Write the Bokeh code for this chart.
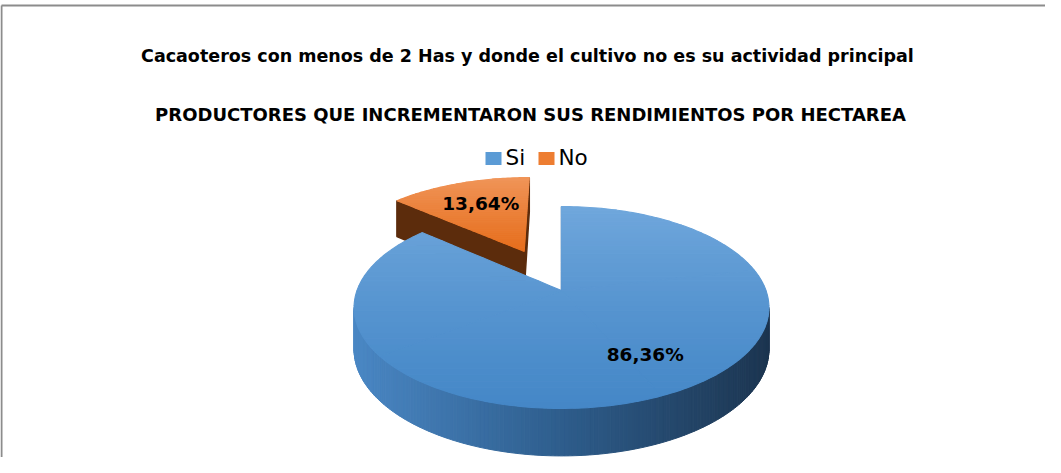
import numpy as np
from bokeh.plotting import figure
from bokeh.models import Range1d, ColumnDataSource
from bokeh.embed import file_html
from bokeh.resources import INLINE
from bokeh.core.properties import value

# ---------------- data ----------------
title_main = "Cacaoteros con menos de 2 Has y  donde el cultivo no es su actividad principal"
title_sub = "PRODUCTORES QUE INCREMENTARON SUS RENDIMIENTOS POR HECTAREA"
categories = ["Si", "No"]
percent = [86.36, 13.64]
percent_labels = ["86,36%", "13,64%"]

# ---------------- style / layout ----------------
W, H = 1045, 457
X0, Y0 = 8, 8
CX, CY = 569.0, 298.0          # pie centre (page px)
A, B, P = 204.5, 98.1, 0.168   # radii and perspective
T = 41.0                       # thickness
EXPLODE = [0.0, 0.47]
TOP_GRAD = [("#4487C7", "#70A7DC"), ("#E66E1C", "#F09458")]   # (front, back)
SIDE_STOPS = ["#4A87C4", "#2E5D8C", "#1C3550"]
CUT_COLOR = ["#3E6E9E", "#5C2C0C"]
LEG_COLORS = ["#5B9BD5", "#ED7D31"]
LABEL_R = [0.62, 0.5]
LABEL_OFF = [(25.5, 3.0), (-9.0, -12.0)]
FONT = "DejaVu Sans"
BORDER = "#8C8C8C"


def hex2rgb(h):
    h = h.lstrip("#")
    return np.array([int(h[i:i + 2], 16) for i in (0, 2, 4)], float)


def lerp(c1, c2, t):
    a, b = hex2rgb(c1), hex2rgb(c2)
    c = a + (b - a) * min(max(t, 0.0), 1.0)
    return "#%02x%02x%02x" % tuple(int(round(x)) for x in c)


def multi_lerp(stops, t):
    t = min(max(t, 0.0), 1.0)
    n = len(stops) - 1
    k = min(int(t * n), n - 1)
    return lerp(stops[k], stops[k + 1], t * n - k)


def proj(u, v, h=0.0):
    u = np.asarray(u, float)
    v = np.asarray(v, float)
    f = 1.0 / (1.0 + P * v)
    return CX + A * u * f, CY - B * v * f + h * T * f ** 0.8


def clip_v(poly, lo, hi):
    def half(pts, inside, level):
        out = []
        for k in range(len(pts)):
            cur, prev = pts[k], pts[k - 1]
            ci, pi = inside(cur), inside(prev)
            if ci != pi:
                t = (level - prev[1]) / (cur[1] - prev[1])
                out.append((prev[0] + t * (cur[0] - prev[0]), level))
            if ci:
                out.append(cur)
        return out
    pts = half(poly, lambda q: q[1] >= lo, lo)
    if len(pts) < 3:
        return []
    return half(pts, lambda q: q[1] <= hi, hi)


p = figure(width=W, height=H, x_range=Range1d(X0, X0 + W), y_range=Range1d(Y0 + H, Y0),
           output_backend="svg", toolbar_location=None, min_border=0,
           x_axis_location=None, y_axis_location=None)
p.grid.visible = False
p.outline_line_color = None
p.background_fill_color = "white"
p.border_fill_color = "white"

# chart-area border (top + left visible)
p.line([X0 + 1, X0 + W], [13, 13], line_color=BORDER, line_width=2)
p.line([X0 + 1, X0 + 1], [13, Y0 + H], line_color=BORDER, line_width=2)

# ---------------- 3D pie ----------------
total = float(sum(percent))
cum = np.concatenate([[0.0], np.cumsum(percent)]) / total * 360.0
theta_r = np.degrees(np.arccos(-P))
theta_l = 360.0 - theta_r

label_pos = []
draw_order = [1, 0]  # back (exploded) slice first
slices = {}
for i in range(len(categories)):
    th0, th1 = cum[i], cum[i + 1]
    mid = np.radians((th0 + th1) / 2)
    eu, ev = EXPLODE[i] * np.sin(mid), EXPLODE[i] * np.cos(mid)
    # convex sub-sectors (<= 90 deg each)
    nsub = int(np.ceil((th1 - th0) / 90.0))
    bounds = np.linspace(th0, th1, nsub + 1)
    subs = []
    for s in range(nsub):
        arc = np.radians(np.linspace(bounds[s], bounds[s + 1], 60))
        subs.append([(eu, ev)] + [(eu + np.sin(t), ev + np.cos(t)) for t in arc])
    slices[i] = (th0, th1, eu, ev, subs)
    lu = eu + LABEL_R[i] * np.sin(mid)
    lv = ev + LABEL_R[i] * np.cos(mid)
    lx, ly = proj(lu, lv)
    label_pos.append((float(lx) + LABEL_OFF[i][0], float(ly) + LABEL_OFF[i][1]))

for i in draw_order:
    th0, th1, eu, ev, subs = slices[i]
    # outer side wall (front-facing part)
    a, b = max(th0, theta_r), min(th1, theta_l)
    if b > a:
        ths = np.radians(np.linspace(a, b, 160))
        us = eu + np.sin(ths)
        vs = ev + np.cos(ths)
        xt, yt = proj(us, vs, 0.0)
        xb, yb = proj(us, vs, 1.0)
        xmin, xmax = xt.min(), xt.max()
        wx, wy, wc = [], [], []
        for k in range(len(ths) - 1):
            wx.append([xt[k], xt[k + 1], xb[k + 1], xb[k]])
            wy.append([yt[k], yt[k + 1], yb[k + 1], yb[k]])
            wc.append(multi_lerp(SIDE_STOPS, ((xt[k] + xt[k + 1]) / 2 - xmin) / (xmax - xmin)))
        p.patches(xs="xs", ys="ys", fill_color="c", line_color="c", line_width=1,
                  source=ColumnDataSource(dict(xs=wx, ys=wy, c=wc)))
    # radial cut faces
    for th, sgn in ((th0, -1), (th1, 1)):
        r = np.radians(th)
        nv = -sgn * np.sin(r)   # v component of outward normal
        if nv < 0.01:
            us = [eu, eu + np.sin(r), eu + np.sin(r), eu]
            vs = [ev, ev + np.cos(r), ev + np.cos(r), ev]
            hs = [0, 0, 1, 1]
            fx, fy = [], []
            for uu, vv, hh in zip(us, vs, hs):
                x, y = proj(uu, vv, hh)
                fx.append(float(x)); fy.append(float(y))
            p.patch(fx, fy, fill_color=CUT_COLOR[i], line_color=CUT_COLOR[i], line_width=1.5)
    # top face with vertical gradient
    allpts = [q for sub in subs for q in sub]
    vmin = min(q[1] for q in allpts)
    vmax = max(q[1] for q in allpts)
    nb = 40
    edges = np.linspace(vmin, vmax, nb + 1)
    bx, by, bc = [], [], []
    for k in range(nb):
        col = lerp(TOP_GRAD[i][0], TOP_GRAD[i][1], (k + 0.5) / nb)
        for sub in subs:
            part = clip_v(sub, edges[k], edges[k + 1])
            if len(part) < 3:
                continue
            x, y = proj([q[0] for q in part], [q[1] for q in part])
            bx.append(list(x)); by.append(list(y)); bc.append(col)
    p.patches(xs="xs", ys="ys", fill_color="c", line_color="c", line_width=1.1,
              source=ColumnDataSource(dict(xs=bx, ys=by, c=bc)))

# data labels
p.text(x=[q[0] for q in label_pos], y=[q[1] for q in label_pos], text=percent_labels,
       text_font=value(FONT), text_font_style="bold", text_font_size="18.5px",
       text_color="black", text_align="center", text_baseline="middle")

# titles
p.text(x=[538], y=[63.5], text=[title_main], text_font=value(FONT), text_font_style="bold",
       text_font_size="17.5px", text_color="black", text_align="center", text_baseline="middle")
p.text(x=[538], y=[122], text=[title_sub], text_font=value(FONT), text_font_style="bold",
       text_font_size="18px", text_color="black", text_align="center", text_baseline="middle")

# legend
LEG_X = [493, 546]
LEG_Y = 166
p.rect(x=[lx + 8 for lx in LEG_X], y=[LEG_Y] * 2, width=16, height=13,
       fill_color=LEG_COLORS, line_color=None)
p.text(x=[lx + 20 for lx in LEG_X], y=[165] * 2, text=categories, text_font=value(FONT),
       text_font_size="21.5px", text_color="black", text_align="left", text_baseline="middle")

open("out.html", "w").write(file_html(p, INLINE))
